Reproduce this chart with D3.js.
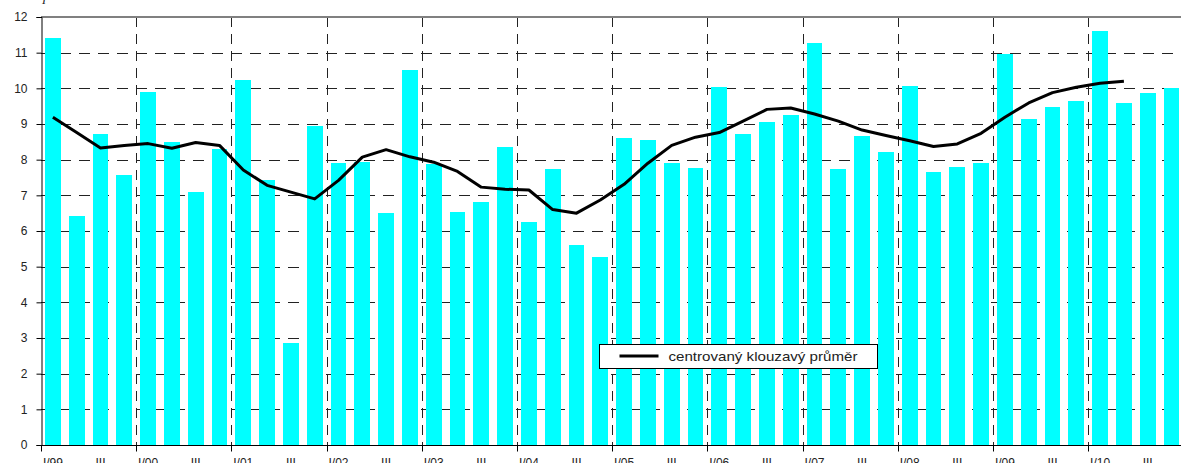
<!DOCTYPE html>
<html>
<head>
<meta charset="utf-8">
<script src="https://cdnjs.cloudflare.com/ajax/libs/d3/7.8.5/d3.min.js"></script>
<style>
    body { margin: 0; background: #fff; }
    svg { display: block; font-family: "Liberation Sans", Arial, sans-serif; }
</style>
</head>
<body>
<svg id="chart" width="1181" height="463"></svg>
<script>
// Quarterly values, I/99 .. IV/10.
const barValues = [
    11.41, 6.42, 8.72, 7.57,
    9.90, 8.49, 7.09, 8.30,
    10.23, 7.43, 2.86, 8.94,
    7.91, 7.94, 6.51, 10.51,
    7.88, 6.53, 6.81, 8.35,
    6.25, 7.74, 5.61, 5.27,
    8.61, 8.55, 7.91, 7.77,
    10.04, 8.72, 9.06, 9.25,
    11.27, 7.74, 8.66, 8.21,
    10.06, 7.65, 7.79, 7.91,
    10.96, 9.14, 9.48, 9.64,
    11.61, 9.59, 9.87, 10.01
];

// Centered moving average, I/99 .. II/10.
const movingAverage = [
    9.19, 8.76, 8.33, 8.40,
    8.45, 8.32, 8.48, 8.40,
    7.71, 7.28, 7.09, 6.90,
    7.42, 8.07, 8.28, 8.08,
    7.93, 7.67, 7.23, 7.17,
    7.15, 6.60, 6.50, 6.87,
    7.31, 7.90, 8.40, 8.63,
    8.76, 9.08, 9.41, 9.45,
    9.28, 9.08, 8.83, 8.68,
    8.53, 8.37, 8.44, 8.74,
    9.19, 9.59, 9.88, 10.03,
    10.14, 10.20
];

const years = ["99", "00", "01", "02", "03", "04", "05", "06", "07", "08", "09", "10"];
const quarterNames = ["I", "II", "III", "IV"];
const yTicks = [0, 1, 2, 3, 4, 5, 6, 7, 8, 9, 10, 11, 12];
const legendLabel = "centrovaný klouzavý průměr";

function drawChart() {
    /*
    Draws the bars, the moving average and the axes.
    */

    let svg = d3.select("#chart");

    // Plot area bounds.
    let left = 41;
    let top = 17;
    let bottom = 445;
    let step = 23.8;

    // One category per quarter.
    let categories = [];
    years.forEach(function(y) {
        quarterNames.forEach(function(q) {
            categories.push(q + "/" + y);
        });
    });

    let x = d3.scaleBand()
        .domain(categories)
        .range([left, left + step * categories.length])
        .paddingInner(0.33)
        .paddingOuter(0.165);

    let y = d3.scaleLinear()
        .domain([0, 12])
        .range([bottom, top]);

    let right = x.range()[1];

    // Horizontal dashed gridlines.
    svg.append("g")
        .selectAll("line")
        .data(yTicks.filter(function(d) { return d > 0 && d < 12; }))
        .join("line")
        .attr("x1", left)
        .attr("x2", right)
        .attr("y1", function(d) { return Math.round(y(d)) + 0.5; })
        .attr("y2", function(d) { return Math.round(y(d)) + 0.5; })
        .attr("stroke", "#222")
        .attr("stroke-dasharray", "11,8");

    // Vertical dashed gridlines at each year's first quarter.
    let yearStarts = categories.filter(function(c, i) { return i % 4 === 0 && i > 0; });
    svg.append("g")
        .selectAll("line")
        .data(yearStarts)
        .join("line")
        .attr("x1", function(d) { return Math.round(x(d) - x.step() * 0.165) + 0.5; })
        .attr("x2", function(d) { return Math.round(x(d) - x.step() * 0.165) + 0.5; })
        .attr("y1", top)
        .attr("y2", bottom)
        .attr("stroke", "#222")
        .attr("stroke-dasharray", "10,7");

    // Plot area top border.
    svg.append("line")
        .attr("x1", left)
        .attr("x2", right)
        .attr("y1", top)
        .attr("y2", top)
        .attr("stroke", "#808080")
        .attr("stroke-width", 2);

    // Bars.
    svg.append("g")
        .selectAll("rect")
        .data(barValues)
        .join("rect")
        .attr("x", function(d, i) { return x(categories[i]); })
        .attr("y", function(d) { return y(d); })
        .attr("width", x.bandwidth())
        .attr("height", function(d) { return y(0) - y(d); })
        .attr("fill", "#00ffff")
        .attr("shape-rendering", "crispEdges");

    // Moving average line.
    let line = d3.line()
        .x(function(d, i) { return x(categories[i]) + x.bandwidth() / 2; })
        .y(function(d) { return y(d); });

    svg.append("path")
        .datum(movingAverage)
        .attr("d", line)
        .attr("fill", "none")
        .attr("stroke", "#000")
        .attr("stroke-width", 3)
        .attr("stroke-linejoin", "round");

    // Y axis.
    let yAxis = svg.append("g")
        .attr("transform", "translate(" + (left + 0.5) + ",0)")
        .call(d3.axisLeft(y).tickValues(yTicks).tickSize(5).tickPadding(9));
    yAxis.select(".domain").attr("stroke", "#000");
    yAxis.selectAll("text")
        .attr("font-size", 12)
        .attr("font-family", "Liberation Sans, Arial, sans-serif")
        .attr("fill", "#222");

    // X axis: ticks between years, labels on I and III quarters.
    let xAxis = svg.append("g")
        .attr("transform", "translate(0," + (bottom + 0.5) + ")");
    xAxis.append("line")
        .attr("x1", left)
        .attr("x2", right)
        .attr("stroke", "#000");
    xAxis.selectAll("line.tick")
        .data(categories.filter(function(c, i) { return i % 4 === 0; }))
        .join("line")
        .attr("class", "tick")
        .attr("x1", function(d) { return Math.round(x(d) - x.step() * 0.165) + 0.5; })
        .attr("x2", function(d) { return Math.round(x(d) - x.step() * 0.165) + 0.5; })
        .attr("y1", 0)
        .attr("y2", 6)
        .attr("stroke", "#000");
    xAxis.selectAll("text")
        .data(categories.filter(function(c, i) { return i % 2 === 0; }))
        .join("text")
        .attr("x", function(d) { return x(d) + x.bandwidth() / 2; })
        .attr("y", 21)
        .attr("text-anchor", "middle")
        .attr("font-size", 12)
        .attr("fill", "#222")
        .text(function(d) { return d.indexOf("III") === 0 ? "III" : d; });

    // Unit label, mostly cut off at the top edge.
    svg.append("text")
        .attr("x", 42)
        .attr("y", 4)
        .attr("font-family", "Liberation Serif, serif")
        .attr("font-style", "italic")
        .attr("font-size", 12)
        .attr("fill", "#222")
        .text("I");

    // Legend.
    let legend = svg.append("g").attr("transform", "translate(599.5,344.5)");
    legend.append("rect")
        .attr("width", 278)
        .attr("height", 24)
        .attr("fill", "#fff")
        .attr("stroke", "#000");
    legend.append("line")
        .attr("x1", 20)
        .attr("x2", 59)
        .attr("y1", 11.5)
        .attr("y2", 11.5)
        .attr("stroke", "#000")
        .attr("stroke-width", 3);
    legend.append("text")
        .attr("x", 69)
        .attr("y", 16)
        .attr("font-size", 13)
        .attr("fill", "#222")
        .attr("textLength", 189)
        .attr("lengthAdjust", "spacingAndGlyphs")
        .text(legendLabel);
}

drawChart();
</script>
</body>
</html>
